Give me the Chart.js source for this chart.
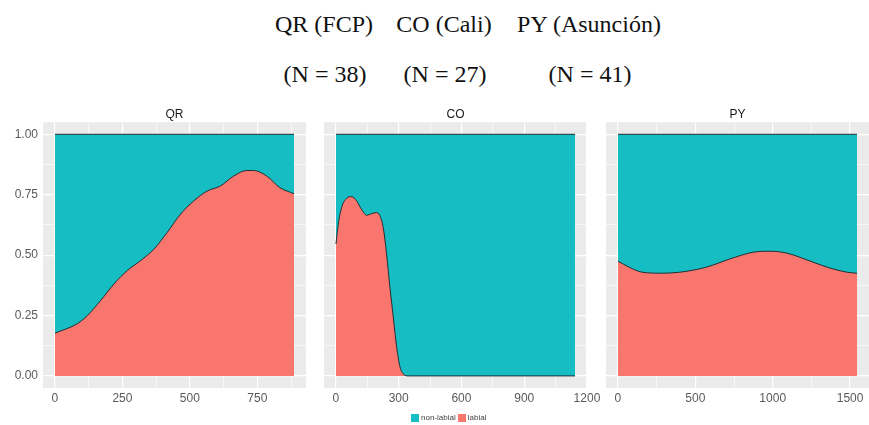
<!DOCTYPE html>
<html>
<head>
<meta charset="utf-8">
<script src="https://cdn.jsdelivr.net/npm/chart.js@4/dist/chart.umd.min.js"></script>
<style>
  html, body { margin: 0; padding: 0; }
  body { width: 869px; height: 425px; background: #ffffff; position: relative; overflow: hidden; font-family: "Liberation Sans", Arial, sans-serif; }
  .t { position: absolute; font-family: "Liberation Serif", "Times New Roman", serif; font-size: 24px; line-height: 24px; color: #111; white-space: nowrap; transform: translateX(-50%); }
  .pc { position: absolute; }
  #legend { position: absolute; left: 411px; top: 413px; font-size: 8px; line-height: 10px; color: #444; white-space: nowrap; display: flex; align-items: center; }
  #legend .sw { display: inline-block; width: 8px; height: 8px; margin-right: 2px; }
  #legend .it { display: inline-flex; align-items: center; margin-right: 2px; }
</style>
</head>
<body>
<div class="t" id="t1a" style="left:324px; top:12px;"></div>
<div class="t" id="t2a" style="left:444px; top:12px;"></div>
<div class="t" id="t3a" style="left:589px; top:12px;"></div>
<div class="t" id="t1b" style="left:325px; top:62px;"></div>
<div class="t" id="t2b" style="left:445px; top:62px;"></div>
<div class="t" id="t3b" style="left:590px; top:62px;"></div>

<div class="pc" style="left:0px; top:106px;"><canvas id="c1"></canvas></div>
<div class="pc" style="left:281px; top:106px;"><canvas id="c2"></canvas></div>
<div class="pc" style="left:563px; top:106px;"><canvas id="c3"></canvas></div>

<div id="legend"></div>

<script>
// ---------------- data ----------------
const titleLines = ['QR (FCP)', 'CO (Cali)', 'PY (Asunción)'];
const nLines = ['(N = 38)', '(N = 27)', '(N = 41)'];
const facetNames = ['QR', 'CO', 'PY'];
const seriesNames = ['non-labial', 'labial'];

// QR panel: duration (x) and conditional proportion of "labial"
const qrX = [0, 84, 121, 170, 219, 268, 317, 367, 416, 465, 514, 564, 613, 662, 711, 736, 785, 834, 886];
const qrLabial = [0.177, 0.217, 0.251, 0.313, 0.381, 0.436, 0.477, 0.525, 0.594, 0.669, 0.724, 0.765, 0.786, 0.827, 0.850, 0.850, 0.827, 0.779, 0.754];
const qrRange = [0, 886];
const qrTicks = [0, 250, 500, 750];

// CO panel
const coX = [0, 11, 27, 51, 75, 99, 122, 147, 171, 194, 210, 226, 242, 258, 274, 290, 306, 322, 346, 412, 1143];
const coLabial = [0.546, 0.628, 0.697, 0.735, 0.742, 0.724, 0.690, 0.665, 0.672, 0.676, 0.663, 0.614, 0.505, 0.367, 0.244, 0.121, 0.038, 0.008, 0, 0, 0];
const coRange = [0, 1143];
const coTicks = [0, 300, 600, 900, 1200];

// PY panel
const pyX = [0, 72, 158, 288, 397, 571, 723, 874, 983, 1092, 1222, 1352, 1482, 1545];
const pyLabial = [0.475, 0.450, 0.429, 0.425, 0.429, 0.450, 0.484, 0.512, 0.516, 0.508, 0.480, 0.450, 0.429, 0.425];
const pyRange = [0, 1545];
const pyTicks = [0, 500, 1000, 1500];

// stacked total (non-labial upper boundary) at the range ends
const totalTop = [1, 1];
const yTicks = [0, 0.25, 0.5, 0.75, 1];

// ---------------- styling ----------------
const TEAL = '#16BEC4';
const SALMON = '#F8766D';
const EDGE = '#1f2f33';
const PANEL_BG = '#EBEBEB';
const TICK_COLOR = '#5a5a5a';

document.getElementById('t1a').textContent = titleLines[0];
document.getElementById('t2a').textContent = titleLines[1];
document.getElementById('t3a').textContent = titleLines[2];
document.getElementById('t1b').textContent = nLines[0];
document.getElementById('t2b').textContent = nLines[1];
document.getElementById('t3b').textContent = nLines[2];

const lg = document.getElementById('legend');
[[seriesNames[0], TEAL], [seriesNames[1], SALMON]].forEach(([name, col]) => {
  const it = document.createElement('span'); it.className = 'it';
  const sw = document.createElement('span'); sw.className = 'sw'; sw.style.background = col;
  const tx = document.createElement('span'); tx.textContent = name;
  it.appendChild(sw); it.appendChild(tx); lg.appendChild(it);
});

const panelBg = {
  id: 'panelBg',
  beforeDraw(chart) {
    const a = chart.chartArea, c = chart.ctx;
    c.save(); c.fillStyle = PANEL_BG; c.fillRect(a.left, a.top, a.right - a.left, a.bottom - a.top); c.restore();
  }
};

function minorsOf(majors, lo, hi) {
  const step = majors[1] - majors[0];
  const out = [];
  for (let v = majors[0] - step / 2; v <= hi; v += step) { if (v >= lo) out.push(v); }
  return out;
}

const PANEL_W = 263;
const LEFT_EXTRA = 43, RIGHT_EXTRA = 25;

function makePanel(id, xs, ys, range, majors, facet, showY) {
  const xmax = range[1];
  const lo = -0.05 * xmax, hi = 1.05 * xmax;
  const xAll = majors.concat(minorsOf(majors, lo, hi)).sort((a, b) => a - b);
  const yAll = yTicks.concat(minorsOf(yTicks, -0.05, 1.05)).sort((a, b) => a - b);
  const yw = showY ? 40 : 0;
  const canvas = document.getElementById(id);
  canvas.width = PANEL_W + LEFT_EXTRA + RIGHT_EXTRA;
  canvas.height = 306;
  canvas.style.width = canvas.width + 'px';
  canvas.style.height = canvas.height + 'px';

  const labial = xs.map((x, i) => ({ x: x, y: ys[i] }));
  const top = range.map((x, i) => ({ x: x, y: totalTop[i] }));

  new Chart(canvas.getContext('2d'), {
    type: 'line',
    data: {
      datasets: [
        { label: seriesNames[1], data: labial, fill: 'origin', backgroundColor: SALMON, borderColor: EDGE,
          borderWidth: 1, pointRadius: 0, cubicInterpolationMode: 'monotone' },
        { label: seriesNames[0], data: top, fill: 'origin', backgroundColor: TEAL, borderColor: EDGE,
          borderWidth: 1, pointRadius: 0 }
      ]
    },
    options: {
      responsive: false, animation: false, events: [],
      layout: { autoPadding: false, padding: { left: LEFT_EXTRA - yw, right: RIGHT_EXTRA, top: 0, bottom: 0 } },
      plugins: {
        legend: { display: false },
        tooltip: { enabled: false },
        title: { display: true, fullSize: false, text: facet, color: '#1a1a1a',
                 font: { family: '"Liberation Sans", Arial, sans-serif', size: 12, weight: 'normal', lineHeight: 1.1 },
                 padding: { top: 2, bottom: 1 } }
      },
      scales: {
        x: {
          type: 'linear', min: lo, max: hi,
          afterBuildTicks: s => { s.ticks = xAll.map(v => ({ value: v })); },
          afterFit: s => { s.height = 24; s.paddingLeft = 0; s.paddingRight = 0; },
          border: { display: false },
          grid: { color: '#ffffff', drawTicks: false,
                  lineWidth: c => (majors.includes(c.tick && c.tick.value) ? 1.2 : 0.6) },
          ticks: { autoSkip: false, maxRotation: 0, padding: 3, color: TICK_COLOR,
                   font: { family: '"Liberation Sans", Arial, sans-serif', size: 12 },
                   callback: v => (majors.includes(v) ? String(v) : '') }
        },
        y: {
          type: 'linear', min: -0.05, max: 1.05,
          afterBuildTicks: s => { s.ticks = yAll.map(v => ({ value: v })); },
          afterFit: s => { s.width = yw; s.paddingTop = 0; s.paddingBottom = 0; },
          border: { display: false },
          grid: { color: '#ffffff', drawTicks: false,
                  lineWidth: c => (yTicks.includes(c.tick && c.tick.value) ? 1.2 : 0.6) },
          ticks: { display: showY, autoSkip: false, padding: 5, color: TICK_COLOR,
                   font: { family: '"Liberation Sans", Arial, sans-serif', size: 12 },
                   callback: v => (yTicks.includes(v) ? v.toFixed(2) : '') }
        }
      }
    },
    plugins: [panelBg]
  });
}

makePanel('c1', qrX, qrLabial, qrRange, qrTicks, facetNames[0], true);
makePanel('c2', coX, coLabial, coRange, coTicks, facetNames[1], false);
makePanel('c3', pyX, pyLabial, pyRange, pyTicks, facetNames[2], false);
</script>
</body>
</html>
